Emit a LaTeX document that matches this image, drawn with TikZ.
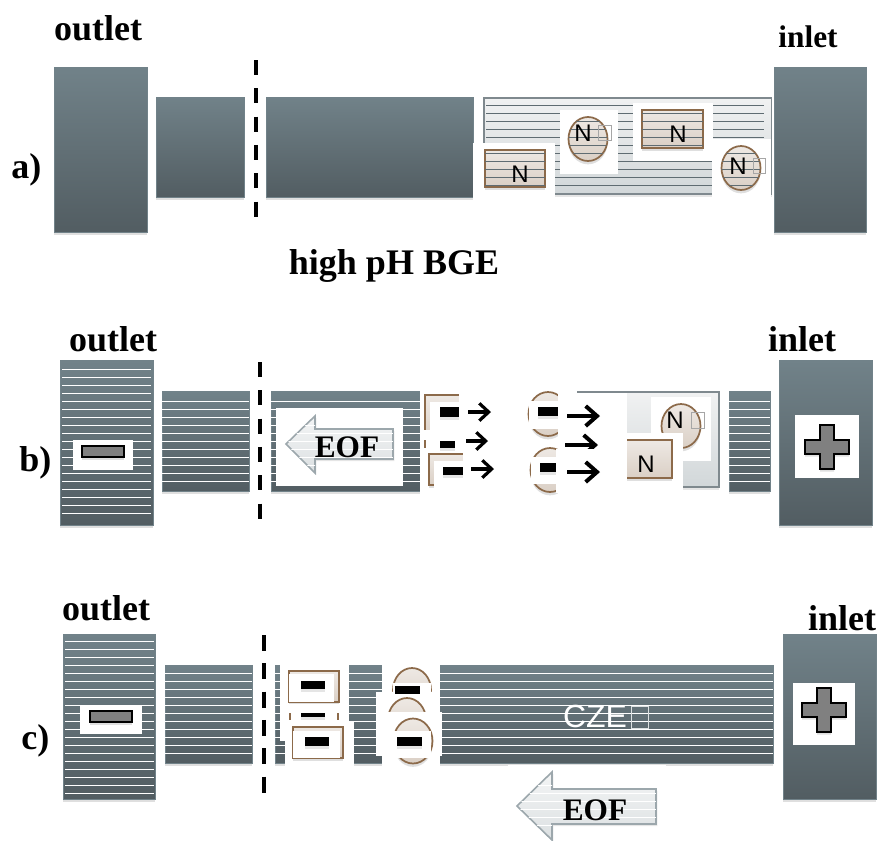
\documentclass[tikz,border=0pt]{standalone}
\usepackage{fontspec}
\setmainfont{Liberation Serif}
\newfontfamily\sansfont{Liberation Sans}
\usetikzlibrary{arrows.meta,shadows}
\definecolor{slatetop}{HTML}{718289}
\definecolor{slatebot}{HTML}{525D62}
\definecolor{ruleline}{HTML}{5F6C72}
\definecolor{brownline}{HTML}{8C6A4A}
% helpers for repeated pieces
\newcommand{\stripes}[5][white]{\pgfmathsetmacro{\ynext}{#4+8}
 \foreach \yy in {#4,\ynext,...,#5} \draw[#1,line width=0.75] (#2,\yy+.5)--(#3,\yy+.5);}
\newcommand{\cutdash}[3]{\foreach \k in {0,...,5} \draw[cut] (#1,#2+\k*28.3)--(#1,#2+\k*28.3+#3);}
\newcommand{\minusmark}[4]{\fill[blackbar] (#1,#2) rectangle (#3,#4);}
\newcommand{\tofu}[4]{\draw[gray!70,line width=0.6] (#1,#2) rectangle (#3,#4);}
\newcommand{\plusmark}[2]{\begin{scope}[shift={(#1,#2)}]
 \draw[signshape] (-7,-22)--(7,-22)--(7,-7)--(22,-7)--(22,7)--(7,7)--(7,22)--(-7,22)--(-7,7)--(-22,7)--(-22,-7)--(-7,-7)--cycle;
 \end{scope}}
\begin{document}
\begin{tikzpicture}[x=0.75pt,y=-0.75pt,>={Straight Barb[length=7pt,width=13pt]},
 block/.style={top color=slatetop,bottom color=slatebot,draw=slatetop,line width=0.6,
  drop shadow={shadow xshift=0pt,shadow yshift=-2.5pt,opacity=.25}},
 lightseg/.style={top color=black!3!white!95!slatetop,bottom color=slatetop!32!white,draw=ruleline!80,line width=1.2,
  drop shadow={shadow xshift=0pt,shadow yshift=-2pt,opacity=.2}},
 ionbox/.style={top color=white!85!brownline,bottom color=brownline!32!white,draw=brownline,line width=1.3,
  drop shadow={shadow xshift=0pt,shadow yshift=-2.5pt,opacity=.25}},
 eofshape/.style={top color=white!92!slatetop,bottom color=slatetop!25!white,draw=slatetop!70!white,line width=1.2,
  drop shadow={shadow xshift=1pt,shadow yshift=-1.5pt,opacity=.2}},
 cut/.style={line width=3.2},
 patch/.style={fill=white},
 blackbar/.style={fill=black,drop shadow={shadow xshift=0pt,shadow yshift=-2pt,opacity=.2}},
 signshape/.style={fill=black!50,draw=black,line width=1.4,drop shadow={shadow xshift=0pt,shadow yshift=-2pt,opacity=.25}},
 lab/.style={font=\fontsize{27pt}{29pt}\selectfont\bfseries,inner sep=0pt},
 ionlab/.style={font=\fontsize{18pt}{20pt}\sansfont,inner sep=0pt},
 eoflab/.style={font=\fontsize{23.5pt}{26pt}\selectfont\bfseries,inner sep=0pt},
 go/.style={->,line width=2.4},
 gobig/.style={->,line width=3,>={Straight Barb[length=8.5pt,width=15pt]}}]
\useasboundingbox (0,0) rectangle (881,840);
% a) --------------------
\node[lab] (outleta) at (98,28) {outlet};
\node[eoflab] (inleta) at (808,37) {inlet};
\node[lab,anchor=west] (laba) at (11,170) {a)};
\node[lab] (bgea) at (394,266) {high pH BGE};
\draw[block] (54,67) rectangle (147,232);
\draw[block] (156,97) rectangle (244,197);
\draw[block] (266,97) rectangle (473,197);
\draw[lightseg] (484,98) rectangle (772,194);
\stripes[ruleline]{486}{764}{105}{185}
\fill[patch] (772,90) rectangle (783,206);
\draw[block] (774,67) rectangle (866,232);
\fill[patch] (473,143) rectangle (555,201);
\fill[patch] (560,110) rectangle (618,174);
\fill[patch] (633,103) rectangle (713,161);
\fill[patch] (712,139) rectangle (771,206);
\draw[ionbox] (485,150) rectangle (545,187);
\begin{scope} \clip (485,150) rectangle (545,187); \stripes[ruleline]{485}{545}{153}{185} \end{scope}
\draw[ionbox] (642,110) rectangle (703,148);
\begin{scope} \clip (642,110) rectangle (703,148); \stripes[ruleline]{642}{703}{113}{145} \end{scope}
\draw[ionbox] (588,139) ellipse (19.5 and 22);
\begin{scope} \clip (588,139) ellipse (19.5 and 22); \stripes[ruleline]{565}{610}{121}{161} \end{scope}
\draw[ionbox] (741,168) ellipse (19.5 and 22);
\begin{scope} \clip (741,168) ellipse (19.5 and 22); \stripes[ruleline]{720}{762}{153}{185} \end{scope}
\node[ionlab] (na1) at (520,174) {N};
\node[ionlab] (na2) at (678,134) {N};
\node[ionlab] (na3) at (583,133) {N};
\node[ionlab] (na4) at (738,166) {N};
\tofu{598}{125}{611}{140}
\tofu{753}{158}{765}{173}
\cutdash{256}{60}{15}
% b) --------------------
\node[lab] (outletb) at (113,339) {outlet};
\node[lab] (inletb) at (802,339) {inlet};
\node[lab,anchor=west] (labb) at (19,463) {b)};
\draw[block] (60,360) rectangle (153,525);
\stripes{62}{151}{369}{513}
\fill[patch] (73,440) rectangle (133,470);
\draw[signshape] (82,446) rectangle (124,457);
\draw[block] (162,391) rectangle (249,491);
\stripes{162}{249}{401}{481}
\draw[block] (271,391) rectangle (420,491);
\stripes{271}{420}{401}{481}
\draw[lightseg] (577,392) rectangle (719,487);
\fill[patch] (420,385) rectangle (627,500);
\draw[lightseg] (577,392) -- (627,392);
\fill[patch] (276,408) rectangle (403,486);
\draw[eofshape] (286,444)--(315,416)--(315,429)--(393,429)--(393,459)--(315,459)--(315,473)--cycle;
\begin{scope} \clip (286,444)--(315,416)--(315,429)--(393,429)--(393,459)--(315,459)--(315,473)--cycle; \stripes{286}{393}{425}{465} \end{scope}
\node[eoflab] (eofb) at (347,447) {EOF};
% negative ions moving to the right
\draw[ionbox] (425,395) rectangle (480,440);
\fill[patch] (430,402) rectangle (459,432);
\fill[patch] (459,390) rectangle (500,445);
\fill[patch] (420,430) rectangle (500,453);
\draw[brownline,line width=1.3] (425,440)--(425,448);
\draw[ionbox] (429,454) rectangle (480,485);
\fill[patch] (434,461) rectangle (463,490);
\fill[patch] (463,450) rectangle (500,490);
\minusmark{440}{407}{459}{417}
\minusmark{440}{441}{455}{448}
\minusmark{443}{467}{463}{475}
\draw[go] (468,412)--(491,412);
\draw[go] (466,441)--(488,441);
\draw[go] (471,469)--(494,469);
\draw[ionbox] (548,414) ellipse (19.5 and 22);
\draw[ionbox] (550,470) ellipse (19.5 and 22);
\fill[patch] (529,401) rectangle (558,429);
\fill[patch] (531,457) rectangle (558,484);
\fill[patch] (558,388) rectangle (577,500);
\fill[patch] (558,394) rectangle (627,449);
\minusmark{538}{407}{558}{416}
\minusmark{540}{463}{558}{472}
\draw[gobig] (567,416)--(600,416);
\draw[gobig] (565,445)--(598,445);
\fill[patch] (556,449) rectangle (627,493);
\draw[gobig] (567,472)--(600,472);
\fill[patch] (651,397) rectangle (711,461);
\draw[ionbox] (681,426) ellipse (19.5 and 22);
\fill[patch] (627,433) rectangle (683,492);
\begin{scope} \clip (627,430) rectangle (680,490);
\draw[ionbox] (605,440) rectangle (672,478);
\end{scope}
\node[ionlab] (nb1) at (675,420) {N};
\node[ionlab] (nb2) at (646,464) {N};
\tofu{691}{412}{704}{428}
\draw[block] (729,391) rectangle (770,491);
\stripes{729}{770}{401}{481}
\draw[block] (779,360) rectangle (872,525);
\fill[patch] (795,415) rectangle (859,478);
\plusmark{827}{447}
\cutdash{260}{362}{15}
% c) --------------------
\node[lab] (outletc) at (106,608) {outlet};
\node[lab] (inletc) at (842,618) {inlet};
\node[lab,anchor=west] (labc) at (21,741) {c)};
\draw[block] (63,634) rectangle (155,799);
\stripes{65}{154}{641}{793}
\fill[patch] (80,706) rectangle (142,734);
\draw[signshape] (90,711) rectangle (132,722);
\draw[block] (165,665) rectangle (252,763);
\stripes{165}{252}{673}{753}
\draw[block] (275,665) rectangle (773,763);
\stripes{275}{773}{673}{753}
\node[ionlab,text=white,font=\fontsize{24pt}{26pt}\sansfont] (cze) at (595,716.5) {CZE};
\draw[white!75!slatetop,line width=0.7] (631,706) rectangle (648,728);
\fill[patch] (280,660) rectangle (349,741);
\fill[patch] (285,722) rectangle (354,772);
\fill[patch] (382,660) rectangle (440,772);
\fill[patch] (376,692) rectangle (384,756);
\draw[ionbox] (289,671) rectangle (339,702);
\fill[patch] (289,674) rectangle (334,702);
\fill[patch] (285,704) rectangle (349,712);
\draw[brownline,line width=1.3] (290,713)--(290,720) (338,713)--(338,720);
\minusmark{301}{713}{325}{717}
\fill[patch] (285,722) rectangle (354,726);
\draw[ionbox] (293,727) rectangle (343,758);
\fill[patch] (293,731) rectangle (340,758);
\minusmark{301}{681}{325}{689}
\minusmark{305}{737}{329}{746}
\draw[ionbox] (412,690) ellipse (19 and 22);
\fill[patch] (393,683) rectangle (431,692);
\fill[patch] (376,692) rectangle (437,712);
\minusmark{395}{686}{420}{694}
\fill[patch] (376,694) rectangle (437,698);
\draw[ionbox] (407,720) ellipse (19 and 22);
\fill[patch] (376,712) rectangle (442,756);
\draw[ionbox] (413,741) ellipse (19.5 and 22.5);
\fill[patch] (384,731) rectangle (431,758);
\minusmark{397}{737}{422}{746}
\cutdash{264}{635}{16}
\draw[block] (783,634) rectangle (876,799);
\fill[patch] (793,683) rectangle (855,745);
\plusmark{824}{710}
\fill[patch] (508,765) rectangle (666,780);
\draw[eofshape] (517,806)--(552,772)--(552,789)--(656,789)--(656,824)--(552,824)--(552,840)--cycle;
\begin{scope} \clip (517,806)--(552,772)--(552,789)--(656,789)--(656,824)--(552,824)--(552,840)--cycle; \stripes{517}{656}{785}{825} \end{scope}
\node[eoflab] (eofc) at (595,810) {EOF};
\end{tikzpicture}
\end{document}
